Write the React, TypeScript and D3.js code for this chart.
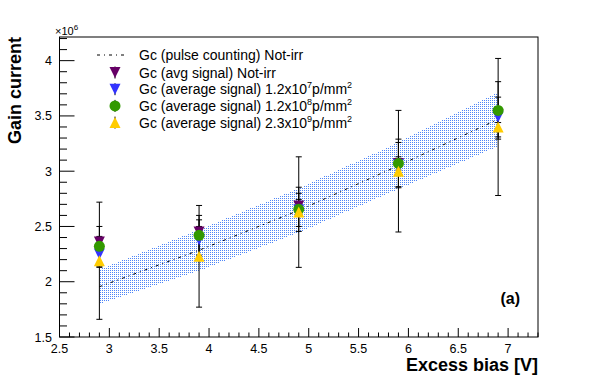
import React from 'react';
import * as d3 from 'd3';

// Excess bias values [V]
const bias = [2.9, 3.9, 4.9, 5.9, 6.9];

// Gc from pulse counting (Not-irr) with its uncertainty band (x10^6)
const pulseGain = [1.955, 2.285, 2.645, 3.05, 3.47];
const pulseErr = [0.155, 0.185, 0.2, 0.21, 0.245];

// Gc from average signal (x10^6)
const avgNotIrr = [2.36, 2.45, 2.685, 3.07, 3.51];
const avgNotIrrErr = [0.05, 0.05, 0.06, 0.06, 0.07];
const avg1e7 = [2.25, 2.38, 2.65, 3.06, 3.49];
const avg1e7Err = [0.12, 0.18, 0.15, 0.2, 0.18];
const avg1e8 = [2.32, 2.42, 2.655, 3.07, 3.55];
const avg1e8Err = [0.18, 0.18, 0.2, 0.22, 0.26];
const avg2e9 = [2.19, 2.23, 2.63, 3.0, 3.4];
const avg2e9Err = [0.53, 0.46, 0.5, 0.55, 0.62];

const xTicks = [2.5, 3, 3.5, 4, 4.5, 5, 5.5, 6, 6.5, 7];
const yTicks = [1.5, 2, 2.5, 3, 3.5, 4];

const font = 'Liberation Sans, Arial, Helvetica, sans-serif';

const series = [
  { name: 'notirr', values: avgNotIrr, errs: avgNotIrrErr, color: '#660066', shape: 'down' },
  { name: 'e7', values: avg1e7, errs: avg1e7Err, color: '#3333ff', shape: 'down' },
  { name: 'e8', values: avg1e8, errs: avg1e8Err, color: '#339900', shape: 'circle' },
  { name: 'e9', values: avg2e9, errs: avg2e9Err, color: '#ffcc00', shape: 'up' },
];

const Marker = ({ x, y, shape, color }: { x: number; y: number; shape: string; color: string }) => {
  const s = 5.5;
  if (shape === 'circle') return <circle cx={x} cy={y} r={5.5} fill={color} />;
  const pts =
    shape === 'down'
      ? [[x - s, y - s], [x + s, y - s], [x, y + s]]
      : [[x - s, y + s], [x + s, y + s], [x, y - s]];
  return <polygon points={pts.map(p => p.join(',')).join(' ')} fill={color} />;
};

const App = () => {
  const left = 59.5;
  const right = 538;
  const top = 37;
  const bottom = 337;

  const x = d3.scaleLinear().domain([2.5, 7.3]).range([left, right]);
  const y = d3.scaleLinear().domain([1.5, 4.214]).range([bottom, top]);

  const band = d3
    .area<number>()
    .x((_, i) => x(bias[i]))
    .y0((d, i) => y(d - pulseErr[i]))
    .y1((d, i) => y(d + pulseErr[i]));

  const line = d3
    .line<number>()
    .x((_, i) => x(bias[i]))
    .y(d => y(d));

  const xMinor = d3.range(25, 74).map(v => v / 10);
  const yMinor = d3.range(15, 43).map(v => v / 10);

  const legendRows = [
    'Gc (avg signal) Not-irr',
    ['Gc (average signal) 1.2x10', '7', 'p/mm', '2'],
    ['Gc (average signal) 1.2x10', '8', 'p/mm', '2'],
    ['Gc (average signal) 2.3x10', '9', 'p/mm', '2'],
  ];

  return (
    <svg
      width={598}
      height={375}
      style={{ position: 'absolute', left: 0, top: 0, background: '#fff' }}
      fontFamily={font}
    >
      <defs>
        <pattern id="dots" width={2} height={2} patternUnits="userSpaceOnUse">
          <rect x={0} y={0} width={1} height={1} fill="#4f86f7" shapeRendering="crispEdges" />
        </pattern>
      </defs>

      {/* pulse counting band and line */}
      <path d={band(pulseGain) || ''} fill="url(#dots)" shapeRendering="crispEdges" />
      <path
        d={line(pulseGain) || ''}
        fill="none"
        stroke="#000"
        strokeWidth={1}
        strokeDasharray="3,4,1,4"
      />

      {/* error bars */}
      {series.map(s =>
        s.values.map((v, i) => {
          const cx = x(bias[i]);
          const y1 = y(v + s.errs[i]);
          const y2 = y(v - s.errs[i]);
          return (
            <g key={s.name + i} stroke="#000" strokeWidth={1}>
              <line x1={cx} x2={cx} y1={y1} y2={y2} />
              <line x1={cx - 3} x2={cx + 3} y1={y1} y2={y1} />
              <line x1={cx - 3} x2={cx + 3} y1={y2} y2={y2} />
            </g>
          );
        })
      )}

      {/* markers */}
      {series.map(s =>
        s.values.map((v, i) => (
          <Marker key={s.name + 'm' + i} x={x(bias[i])} y={y(v)} shape={s.shape} color={s.color} />
        ))
      )}

      {/* frame */}
      <rect x={left} y={top} width={right - left} height={bottom - top} fill="none" stroke="#000" />

      {/* x axis ticks */}
      {xMinor.map(v => {
        const major = Math.abs(v * 2 - Math.round(v * 2)) < 1e-6;
        return (
          <line
            key={'xt' + v}
            x1={x(v)}
            x2={x(v)}
            y1={bottom}
            y2={bottom - (major ? 9 : 4.5)}
            stroke="#000"
          />
        );
      })}
      {xTicks.map(v => (
        <text key={'xl' + v} x={x(v)} y={353} fontSize={12.5} textAnchor="middle">
          {v}
        </text>
      ))}

      {/* y axis ticks */}
      {yMinor.map(v => {
        const major = Math.abs(v * 2 - Math.round(v * 2)) < 1e-6;
        return (
          <line
            key={'yt' + v}
            x1={left}
            x2={left + (major ? 15 : 7.5)}
            y1={y(v)}
            y2={y(v)}
            stroke="#000"
          />
        );
      })}
      {yTicks.map(v => (
        <text key={'yl' + v} x={52} y={y(v) + 4.5} fontSize={12.5} textAnchor="end">
          {v}
        </text>
      ))}
      <text x={55} y={35} fontSize={11}>
        ×10<tspan dy={-5} fontSize={8}>6</tspan>
      </text>

      {/* axis titles */}
      <text
        transform={`translate(21,${top}) rotate(-90)`}
        fontSize={18}
        fontWeight="bold"
        textAnchor="end"
      >
        Gain current
      </text>
      <text x={right} y={371} fontSize={18} fontWeight="bold" textAnchor="end">
        Excess bias [V]
      </text>
      <text x={520} y={304} fontSize={16} fontWeight="bold" textAnchor="end">
        (a)
      </text>

      {/* legend */}
      <line x1={97} x2={128} y1={55} y2={55} stroke="#000" strokeDasharray="3,4,1,4" />
      <text x={139} y={60} fontSize={14}>
        Gc (pulse counting) Not-irr
      </text>
      {series.map((s, i) => {
        const ly = 72.5 + i * 16.7;
        const row = legendRows[i];
        return (
          <g key={'lg' + s.name}>
            <line x1={115} x2={115} y1={ly - 6} y2={ly + 6} stroke="#000" />
            <Marker x={115} y={ly} shape={s.shape} color={s.color} />
            <text x={139} y={ly + 5} fontSize={14}>
              {typeof row === 'string' ? (
                row
              ) : (
                <>
                  {row[0]}
                  <tspan dy={-6} fontSize={9}>
                    {row[1]}
                  </tspan>
                  <tspan dy={6}>{row[2]}</tspan>
                  <tspan dy={-6} fontSize={9}>
                    {row[3]}
                  </tspan>
                </>
              )}
            </text>
          </g>
        );
      })}
    </svg>
  );
};

export default App;
